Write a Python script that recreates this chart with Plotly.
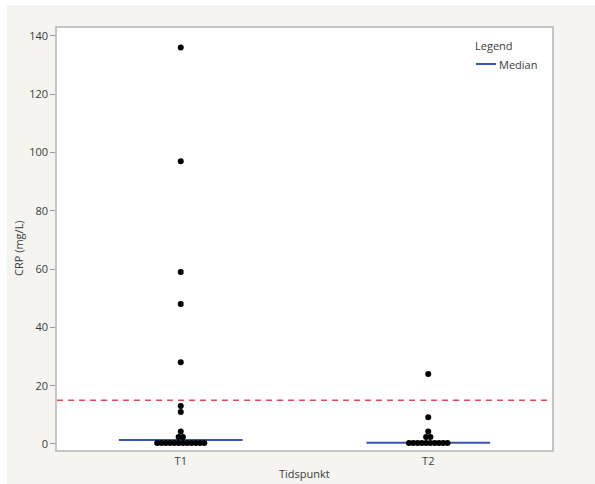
import plotly.graph_objects as go

# CRP measurements per time point
categories = ["T1", "T2"]
crp_t1 = [136, 97, 59, 48, 28, 13, 11, 4.3, 2.4, 2.4,
          0.3, 0.3, 0.3, 0.3, 0.3, 0.3, 0.3, 0.3, 0.3, 0.3, 0.3, 0.3]
crp_t2 = [24, 9.2, 4.3, 2.4, 2.4,
          0.3, 0.3, 0.3, 0.3, 0.3, 0.3, 0.3, 0.3, 0.3, 0.3]
medians = [1.4, 0.4]
reference_level = 15
y_ticks = [0, 20, 40, 60, 80, 100, 120, 140]

DOT_STEP = 0.0173      # horizontal spacing between stacked dots (axis units)
ROW_TOL = 1.0          # values closer than this share a row
MEDIAN_HALF = 0.25     # half width of median bars
MEDIAN_COLOR = "#3a56b4"

# plot area in pixels (page 595 x 484)
L, R, T, B = 57, 552, 28, 450
PW, PH = R - L, B - T


def px_x(x):
    return (x - L) / PW


def px_y(y):
    return (B - y) / PH


def swarm(values, center):
    """Spread near-identical values side by side around the category centre."""
    vals = sorted(values)
    rows, cur = [], [vals[0]]
    for v in vals[1:]:
        if v - cur[0] < ROW_TOL:
            cur.append(v)
        else:
            rows.append(cur)
            cur = [v]
    rows.append(cur)
    xs, ys = [], []
    for row in rows:
        n = len(row)
        for i, v in enumerate(row):
            xs.append(center + (i - (n - 1) / 2) * DOT_STEP)
            ys.append(v)
    return xs, ys


fig = go.Figure()

# median bars
mx, my = [], []
for i, m in enumerate(medians):
    mx += [i - MEDIAN_HALF, i + MEDIAN_HALF, None]
    my += [m, m, None]
fig.add_trace(go.Scatter(x=mx, y=my, mode="lines", name="Median",
                         line=dict(color=MEDIAN_COLOR, width=2),
                         showlegend=False))

# dots
for i, data in enumerate([crp_t1, crp_t2]):
    xs, ys = swarm(data, i)
    fig.add_trace(go.Scatter(x=xs, y=ys, mode="markers", showlegend=False,
                             marker=dict(color="black", size=6,
                                         line=dict(width=0)),
                             hoverinfo="y"))

# reference line
fig.add_shape(type="line", xref="paper", x0=0, x1=1, yref="y",
              y0=reference_level, y1=reference_level,
              line=dict(color="#e2485a", width=1.5, dash="6px,5px"))

# white strip around the grey page panel
fig.add_shape(type="rect", xref="paper", yref="paper",
              x0=-0.2, x1=px_x(7), y0=-0.2, y1=1.2,
              fillcolor="white", line=dict(width=0), layer="below")
fig.add_shape(type="rect", xref="paper", yref="paper",
              x0=-0.2, x1=1.2, y0=px_y(5), y1=1.2,
              fillcolor="white", line=dict(width=0), layer="below")

# legend block
fig.add_shape(type="line", xref="paper", yref="paper",
              x0=px_x(476), x1=px_x(496), y0=px_y(64), y1=px_y(64),
              line=dict(color=MEDIAN_COLOR, width=2))

font = dict(family="Open Sans, Noto Sans, sans-serif", size=11, color="#3a3a3a")


def label(text, x, y, xanchor="left", angle=0):
    return dict(text=text, x=px_x(x), y=px_y(y), xref="paper", yref="paper",
                xanchor=xanchor, yanchor="middle", textangle=angle,
                showarrow=False, font=dict(size=11))


annotations = [
    label("Legend", 473, 45),
    label("Median", 497, 64),
    label("Tidspunkt", (L + R) / 2, 474, xanchor="center"),
    label("CRP (mg/L)", 18, 248, xanchor="center", angle=-90),
]

fig.update_layout(
    width=595, height=484,
    margin=dict(l=L, r=595 - R, t=T, b=484 - B, autoexpand=False),
    paper_bgcolor="#f5f4f0",
    plot_bgcolor="white",
    font=font,
    annotations=annotations,
    xaxis=dict(range=[-0.5, 1.5], tickvals=[0, 1], ticktext=categories,
               showgrid=False, zeroline=False, showline=True, mirror=True,
               linecolor="#c4c4c4", linewidth=1.5, ticks="",
               automargin=False),
    yaxis=dict(range=[-2.06, 142.7], tickvals=y_ticks,
               showgrid=False, zeroline=False, showline=True, mirror=True,
               linecolor="#c4c4c4", linewidth=1.5, ticks="outside",
               ticklen=5, tickcolor="#9a9a9a", automargin=False),
    showlegend=False,
)

fig.write_html("out.html")
